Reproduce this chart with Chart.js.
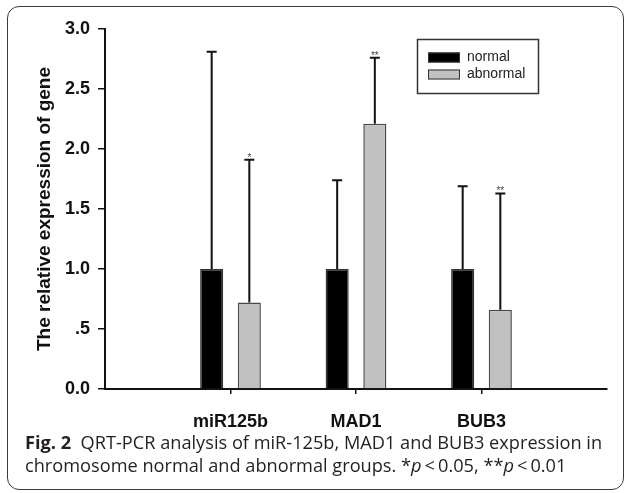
<!DOCTYPE html>
<html lang="en">
<head>
<meta charset="UTF-8">
<title>QRT-PCR</title>
<script src="https://cdn.jsdelivr.net/npm/chart.js"></script>
<style>
  html, body { margin: 0; padding: 0; background: #fff; }
  #wrap { position: relative; width: 626px; height: 493px; overflow: hidden; }
  #frame { position: absolute; left: 7px; top: 6px; width: 617px; height: 484px; box-sizing: border-box;
           border: 1.5px solid #3a3a3a; border-radius: 12px; }
  #chart { position: absolute; left: 0; top: 0; }
  #caption { position: absolute; left: 25px; top: 431px; font-family: 'Open Sans', sans-serif; font-size: 18.2px;
             line-height: 23px; color: #231f20; white-space: nowrap; }
  #caption b { font-weight: 700; }
</style>
</head>
<body>
<div id="wrap">
  <div id="frame"></div>
  <canvas id="chart" width="626" height="493"></canvas>
  <div id="caption"><b>Fig. 2</b>&nbsp; QRT-PCR analysis of miR-125b, MAD1 and BUB3 expression in<br>chromosome normal and abnormal groups. *<i>p</i>&thinsp;&lt;&thinsp;0.05, **<i>p</i>&thinsp;&lt;&thinsp;0.01</div>
</div>

<script>
    // values
    const groups = ['miR125b', 'MAD1', 'BUB3'];
    const normalMean = [1.0, 1.0, 1.0];
    const normalErr = [1.81, 0.74, 0.69];
    const abnormalMean = [0.72, 2.21, 0.66];
    const abnormalErr = [1.19, 0.55, 0.97];
    const normalSig = ['', '', ''];
    const abnormalSig = ['*', '**', '**'];
    const yTickLabels = ['0.0', '.5', '1.0', '1.5', '2.0', '2.5', '3.0'];

    const axisFont = "Arial, 'Liberation Sans', sans-serif";

    // empty slots at both ends so the groups sit at 1/4, 2/4, 3/4 of the axis
    const labels = [''].concat(groups, ['']);
    const pad = arr => [null].concat(arr, [null]);

    const errors = [normalErr, abnormalErr];
    const sigs = [normalSig, abnormalSig];

    const errorBars = {
        id: 'errorBars',
        afterDatasetsDraw(chart) {
            const ctx = chart.ctx;
            const y = chart.scales.y;
            ctx.save();
            chart.data.datasets.forEach((ds, di) => {
                const meta = chart.getDatasetMeta(di);
                meta.data.forEach((bar, i) => {
                    const v = ds.data[i];
                    if (v === null) return;
                    const top = y.getPixelForValue(v + errors[di][i - 1]);
                    ctx.strokeStyle = '#111';
                    ctx.lineWidth = 2;
                    ctx.beginPath();
                    ctx.moveTo(bar.x, bar.y);
                    ctx.lineTo(bar.x, top);
                    ctx.moveTo(bar.x - 5, top);
                    ctx.lineTo(bar.x + 5, top);
                    ctx.stroke();
                    const s = sigs[di][i - 1];
                    if (s) {
                        ctx.fillStyle = '#444';
                        ctx.font = "10px " + axisFont;
                        ctx.textAlign = 'center';
                        ctx.textBaseline = 'alphabetic';
                        ctx.fillText(s, bar.x, top + 1);
                    }
                });
            });
            ctx.restore();
        }
    };

    const boxLegend = {
        id: 'boxLegend',
        afterDraw(chart) {
            const ctx = chart.ctx;
            ctx.save();
            ctx.strokeStyle = '#333';
            ctx.lineWidth = 1.5;
            ctx.strokeRect(417.5, 39.5, 121, 54);
            const rows = [57.5, 74.5];
            chart.data.datasets.forEach((ds, i) => {
                const cy = rows[i];
                ctx.fillStyle = ds.backgroundColor;
                ctx.fillRect(428, cy - 5, 32, 10);
                ctx.strokeStyle = '#333';
                ctx.lineWidth = 1;
                ctx.strokeRect(428.5, cy - 4.5, 31, 9);
                ctx.fillStyle = '#222';
                ctx.font = "14px " + axisFont;
                ctx.textAlign = 'left';
                ctx.textBaseline = 'middle';
                ctx.fillText(ds.label, 467, cy);
            });
            ctx.restore();
        }
    };

    new Chart(document.getElementById('chart'), {
        type: 'bar',
        data: {
            labels: labels,
            datasets: [
                {
                    label: 'normal',
                    data: pad(normalMean),
                    backgroundColor: '#000000',
                    borderColor: '#333333',
                    borderWidth: 1.5,
                    categoryPercentage: 0.6,
                    barPercentage: 0.613
                },
                {
                    label: 'abnormal',
                    data: pad(abnormalMean),
                    backgroundColor: '#c0c0c0',
                    borderColor: '#4a4a4a',
                    borderWidth: 1.5,
                    categoryPercentage: 0.6,
                    barPercentage: 0.613
                }
            ]
        },
        options: {
            responsive: false,
            animation: false,
            layout: { padding: { left: 29, right: 19, top: 29, bottom: 54 } },
            plugins: {
                legend: { display: false },
                tooltip: { enabled: false }
            },
            scales: {
                x: {
                    offset: false,
                    grid: {
                        offset: false,
                        drawOnChartArea: false,
                        tickLength: 5,
                        lineWidth: 1.5,
                        color: ctx => (ctx.tick && ctx.tick.label) ? '#111' : 'rgba(0,0,0,0)'
                    },
                    border: { color: '#111', width: 2 },
                    ticks: {
                        autoSkip: false,
                        maxRotation: 0,
                        padding: 17,
                        color: '#111',
                        font: { family: axisFont, size: 18, weight: 'bold' }
                    },
                    afterFit: s => { s.height = 50; }
                },
                y: {
                    min: 0,
                    max: 3,
                    grid: {
                        drawOnChartArea: false,
                        tickLength: 7,
                        lineWidth: 1.5,
                        color: '#111'
                    },
                    border: { color: '#111', width: 2 },
                    ticks: {
                        stepSize: 0.5,
                        padding: 8,
                        color: '#111',
                        font: { family: axisFont, size: 18, weight: 'bold' },
                        callback: (v, i) => yTickLabels[i]
                    },
                    title: {
                        display: true,
                        text: 'The relative expression of gene',
                        color: '#111',
                        font: { family: axisFont, size: 19, weight: 'bold' }
                    },
                    afterFit: s => { s.width = 76; }
                }
            }
        },
        plugins: [errorBars, boxLegend]
    });
</script>
</body>
</html>
